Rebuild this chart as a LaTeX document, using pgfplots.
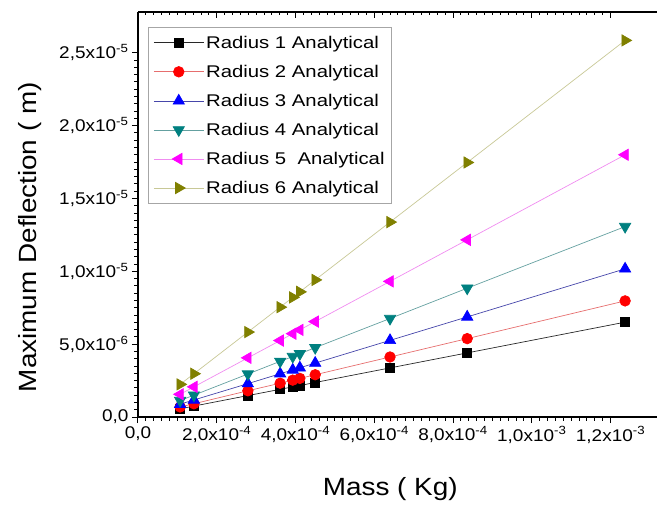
\documentclass[border=0pt]{standalone}
\usepackage{fontspec}
\setmainfont{Liberation Sans}[FakeStretch=1.12]
\newfontfamily\legfont{Liberation Sans}[FakeStretch=1.2]
\usepackage{pgfplots}
\pgfplotsset{compat=1.18}

\definecolor{cA}{RGB}{0,0,0}
\definecolor{cB}{RGB}{255,0,0}
\definecolor{cC}{RGB}{0,0,255}
\definecolor{cD}{RGB}{0,128,128}
\definecolor{cE}{RGB}{255,0,255}
\definecolor{cF}{RGB}{128,128,0}
\definecolor{lA}{RGB}{40,40,40}
\definecolor{lB}{RGB}{230,110,110}
\definecolor{lC}{RGB}{70,70,170}
\definecolor{lD}{RGB}{100,160,160}
\definecolor{lE}{RGB}{240,140,240}
\definecolor{lF}{RGB}{200,200,150}

\begin{document}
\begin{tikzpicture}
\pgfplotsset{
  common/.style={
    width=519bp, height=405bp, scale only axis,
    xmin=0, xmax=1.318e-3, ymin=0, ymax=2.78e-5,
    xtick={0,2e-4,4e-4,6e-4,8e-4,1e-3,1.2e-3},
    ytick={0,5e-6,1e-5,1.5e-5,2e-5,2.5e-5},
    minor x tick num=9, minor y tick num=9,
    major tick length=6bp, minor tick length=3.5bp,
    tick style={black, line width=1bp},
    axis line style={black, line width=1.2bp, -},
    scaled ticks=false,
  }
}
\begin{axis}[common,
  axis x line*=bottom, axis y line*=left,
  tick align=outside,
  xticklabels={{0,0}, {2,0x10\textsuperscript{-4}}, {4,0x10\textsuperscript{-4}}, {6,0x10\textsuperscript{-4}}, {8,0x10\textsuperscript{-4}}, {1,0x10\textsuperscript{-3}}, {1,2x10\textsuperscript{-3}}},
  yticklabels={{0,0}, {5,0x10\textsuperscript{-6}}, {1,0x10\textsuperscript{-5}}, {1,5x10\textsuperscript{-5}}, {2,0x10\textsuperscript{-5}}, {2,5x10\textsuperscript{-5}}},
  tick label style={font=\fontsize{17}{19}\selectfont},
  xlabel={Mass ( Kg)},
  ylabel={Maximum Deflection  ( m)},
  label style={font=\fontsize{25}{29}\selectfont},
  xlabel style={at={(axis description cs:0.486,0)}, anchor=north, yshift=-57bp},
  ylabel style={at={(axis description cs:-0.208,0.444)}, anchor=center},
  legend style={at={(axis description cs:0.0193,0.963)}, anchor=north west,
    draw=black!35, line width=0.8bp, font=\legfont\fontsize{17}{20}\selectfont,
    row sep=11.3bp, inner xsep=5bp, inner ysep=6.5bp},
  legend cell align=left,
  legend image code/.code={\draw[mark repeat=2,mark phase=2,#1] plot coordinates {(0bp,0bp) (25bp,0bp) (50bp,0bp)};},
  every axis plot/.append style={line width=0.7bp},
]
\addplot[lA, mark=square*, mark size=4.5bp, mark options={fill=cA, draw=cA}] coordinates {
 (1.07e-4,5.6e-7) (1.42e-4,7.5e-7) (2.79e-4,1.47e-6) (3.61e-4,1.90e-6) (3.93e-4,2.07e-6)
 (4.11e-4,2.16e-6) (4.50e-4,2.37e-6) (6.40e-4,3.37e-6) (8.36e-4,4.40e-6) (1.237e-3,6.51e-6)};
\addlegendentry{Radius 1 Analytical}
\addplot[lB, mark=*, mark size=5.3bp, mark options={fill=cB, draw=cB}] coordinates {
 (1.07e-4,6.9e-7) (1.42e-4,9.1e-7) (2.79e-4,1.80e-6) (3.61e-4,2.32e-6) (3.93e-4,2.53e-6)
 (4.11e-4,2.65e-6) (4.50e-4,2.90e-6) (6.40e-4,4.12e-6) (8.36e-4,5.38e-6) (1.237e-3,7.97e-6)};
\addlegendentry{Radius 2 Analytical}
\addplot[lC, mark=triangle*, mark size=6.5bp, mark options={fill=cC, draw=cC}] coordinates {
 (1.07e-4,8.8e-7) (1.42e-4,1.17e-6) (2.79e-4,2.29e-6) (3.61e-4,2.97e-6) (3.93e-4,3.23e-6)
 (4.11e-4,3.38e-6) (4.50e-4,3.70e-6) (6.40e-4,5.26e-6) (8.36e-4,6.87e-6) (1.237e-3,1.017e-5)};
\addlegendentry{Radius 3 Analytical}
\addplot[lD, mark=triangle*, mark size=6.5bp, mark options={fill=cD, draw=cD, rotate=180}] coordinates {
 (1.07e-4,1.13e-6) (1.42e-4,1.50e-6) (2.79e-4,2.95e-6) (3.61e-4,3.82e-6) (3.93e-4,4.15e-6)
 (4.11e-4,4.34e-6) (4.50e-4,4.76e-6) (6.40e-4,6.76e-6) (8.36e-4,8.84e-6) (1.237e-3,1.307e-5)};
\addlegendentry{Radius 4 Analytical}
\addplot[lE, mark=triangle*, mark size=6.5bp, mark options={fill=cE, draw=cE, rotate=90}] coordinates {
 (1.07e-4,1.56e-6) (1.42e-4,2.07e-6) (2.79e-4,4.06e-6) (3.61e-4,5.25e-6) (3.93e-4,5.72e-6)
 (4.11e-4,5.98e-6) (4.50e-4,6.55e-6) (6.40e-4,9.31e-6) (8.36e-4,1.216e-5) (1.237e-3,1.80e-5)};
\addlegendentry{Radius 5\ \ Analytical}
\addplot[lF, mark=triangle*, mark size=6.5bp, mark options={fill=cF, draw=cF, rotate=-90}] coordinates {
 (1.07e-4,2.24e-6) (1.42e-4,2.97e-6) (2.79e-4,5.83e-6) (3.61e-4,7.54e-6) (3.93e-4,8.21e-6)
 (4.11e-4,8.59e-6) (4.50e-4,9.41e-6) (6.40e-4,1.338e-5) (8.36e-4,1.747e-5) (1.237e-3,2.585e-5)};
\addlegendentry{Radius 6 Analytical}
\end{axis}
% top axis line with inward ticks
\begin{axis}[common,
  axis x line*=top, axis y line=none,
  tick align=inside, xticklabels={},
]
\end{axis}
\pgfresetboundingbox
\useasboundingbox (-138bp,-91bp) rectangle (519bp,417bp);
\end{tikzpicture}
\end{document}
